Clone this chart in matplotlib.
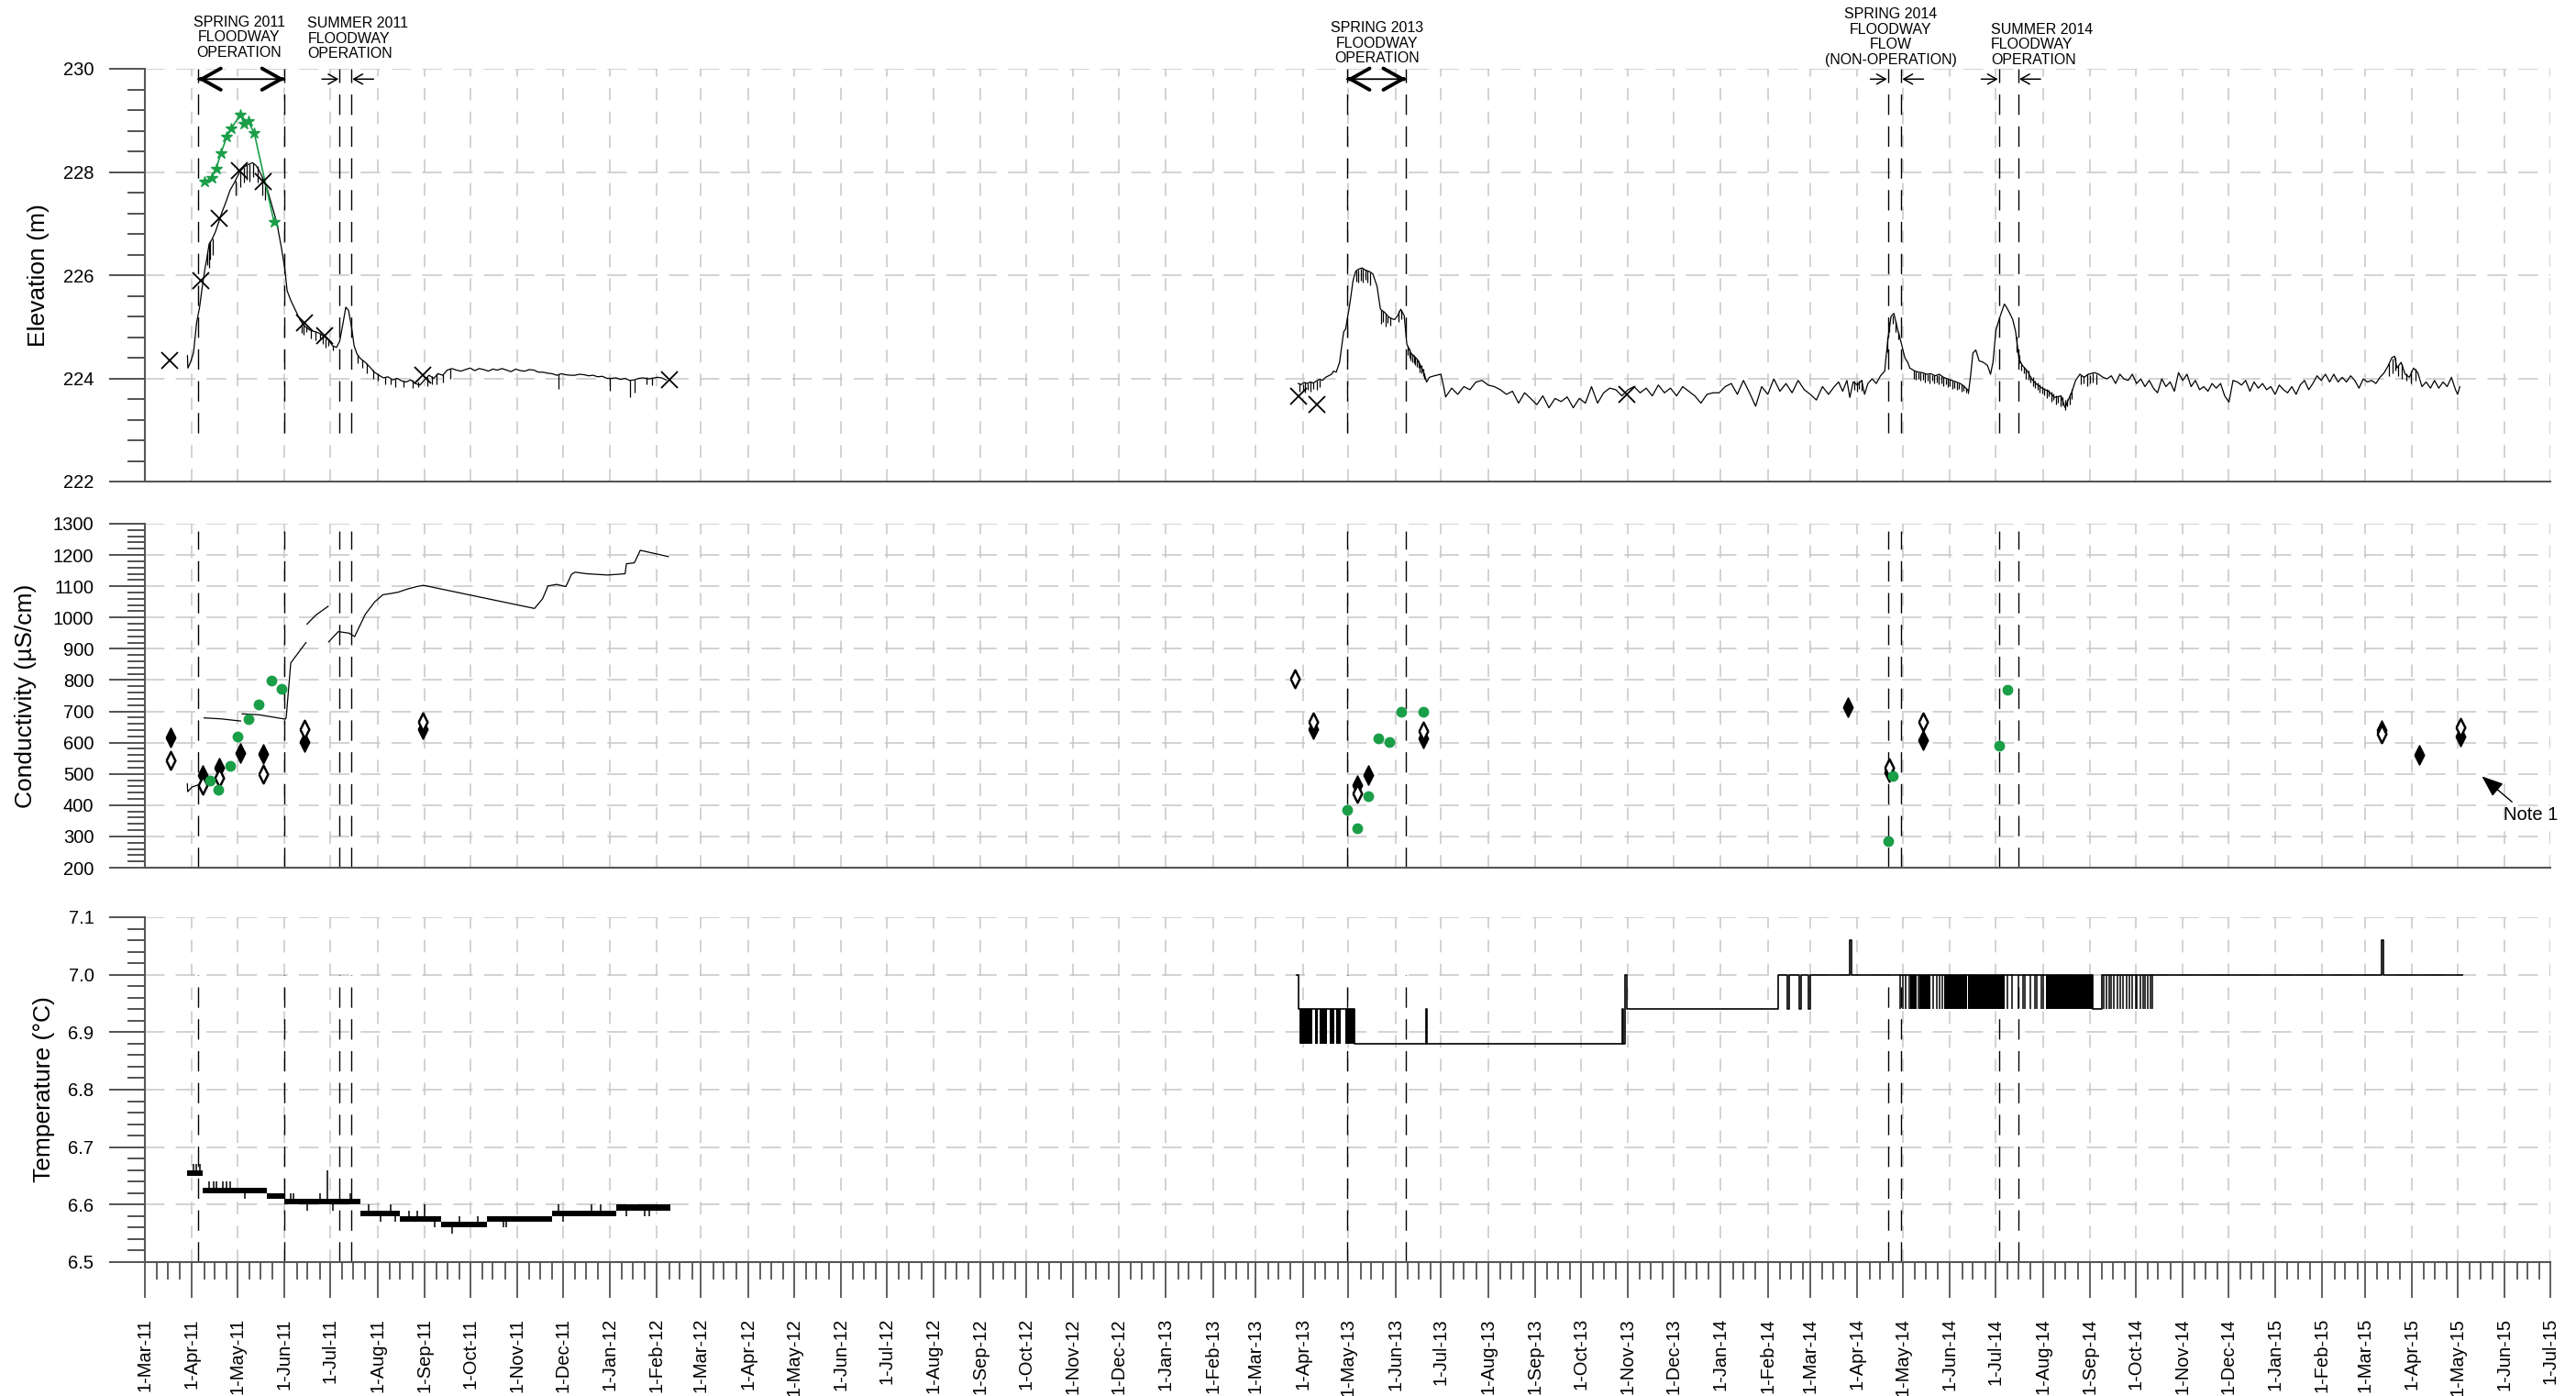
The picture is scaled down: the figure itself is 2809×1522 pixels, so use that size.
import numpy as np
import matplotlib
matplotlib.use("Agg")
import matplotlib.pyplot as plt
import matplotlib.dates as mdates
from matplotlib.ticker import MultipleLocator, FuncFormatter, FormatStrFormatter

plt.rcParams['font.family'] = ['Liberation Sans', 'DejaVu Sans']

# =====================================================================
# DATA
# =====================================================================
# Floodway events
flood_start = ['2011-04-05', '2011-07-07', '2013-04-30', '2014-04-21', '2014-07-03']
flood_end = ['2011-06-01', '2011-07-15', '2013-06-08', '2014-04-30', '2014-07-16']
flood_text = ['SPRING 2011\nFLOODWAY\nOPERATION',
              'SUMMER 2011\nFLOODWAY\nOPERATION',
              'SPRING 2013\nFLOODWAY\nOPERATION',
              'SPRING 2014\nFLOODWAY\nFLOW\n(NON-OPERATION)',
              'SUMMER 2014\nFLOODWAY\nOPERATION']

# ---- Elevation (m): logger record 2011 (days since 2011-03-01)
elev11_day = [28, 28.3, 30, 32, 34, 36, 37.7, 39.6, 40.8, 42.3, 43.9, 46.3, 48.5, 50.6, 53.1, 56.1,
              59.2, 62.3, 65.3, 68.4, 70.9, 73.0, 75.2, 77.6, 80.7, 83.7, 86.8, 89.9, 92.0, 93.6,
              96.0, 99.1, 102.1, 105.2, 108.3, 111.3, 114.4, 117.5, 120.6, 123.6, 126.1, 128.2,
              130.4, 132.2, 134.0, 135.9, 137.7, 139.6,
              142, 145, 148, 151, 154, 157, 160, 163, 166, 169, 172, 175, 178, 181, 184, 187, 190,
              193, 196, 199, 202, 205, 208, 211, 214, 217, 220, 223, 226, 229, 232, 235, 238, 241,
              244, 247, 250, 253, 256, 259, 262, 265, 268, 271, 274, 277, 280, 283, 286, 289, 292,
              295, 298, 301, 304, 307, 310, 313, 316, 319, 322, 325, 328, 331, 334, 337, 340, 343]
elev11_m = [224.44, 224.20, 224.31, 224.50, 225.07, 225.38, 225.76, 226.14, 226.33, 226.61,
            226.68, 226.83, 227.02, 227.21, 227.40, 227.65, 227.81, 228.00, 228.10, 228.15,
            228.18, 228.13, 228.03, 227.88, 227.65, 227.34, 227.02, 226.52, 226.14, 225.70,
            225.51, 225.32, 225.13, 225.01, 224.94, 224.91, 224.88, 224.82, 224.75, 224.63,
            224.60, 224.72, 225.07, 225.38, 225.32, 225.01, 224.63, 224.47,
            224.38, 224.31, 224.22, 224.12, 224.06, 224.01, 224.03, 223.97, 224.00, 223.95,
            223.93, 223.97, 223.90, 223.87, 223.97, 224.06, 224.00, 224.09, 224.06, 224.16,
            224.19, 224.16, 224.14, 224.17, 224.20, 224.15, 224.19, 224.17, 224.14, 224.18,
            224.16, 224.19, 224.16, 224.13, 224.18, 224.15, 224.14, 224.17, 224.16, 224.12,
            224.12, 224.10, 224.09, 224.06, 224.09, 224.07, 224.06, 224.06, 224.08, 224.07,
            224.05, 224.06, 224.03, 224.04, 224.00, 224.00, 224.01, 223.98, 224.00, 223.96,
            223.97, 224.00, 224.01, 223.99, 224.00, 224.02, 224.01, 223.97]

# ---- Elevation logger record 2013-2014 (days since 2013-03-01)
elev13_day = [28, 30, 32, 34, 36, 38, 40, 42, 44, 46, 48, 50, 51.2, 53, 55.2, 57.9, 59.2, 61.9,
              64.1, 65.9, 68, 70, 72, 74, 76, 77.2, 79.9, 82.1, 84.8, 87.5, 90, 91.5, 93.5, 95.5,
              97.7, 99.5, 102.2, 106.3, 110.3, 112.5, 114.3, 117.6, 121.9, 123.7,
              125, 129, 133, 137, 141, 145, 149, 153, 157, 161, 165, 169, 173, 177, 181, 185, 189,
              193, 197, 201, 205, 209, 213, 217, 221, 225, 229, 233, 237, 241, 245, 249, 253, 257,
              261, 265, 269, 273, 277, 281, 285, 289, 293, 297, 301, 305, 309, 313, 317, 321, 325,
              329, 333, 337, 341, 345, 349, 353, 357, 361, 365, 369, 373, 377]
elev13_m = [223.90, 223.88, 223.92, 223.90, 223.93, 223.91, 223.95, 223.98, 223.96, 224.02,
            224.05, 224.08, 224.14, 224.12, 224.31, 224.90, 224.96, 225.43, 225.90, 226.08,
            226.12, 226.14, 226.10, 226.08, 226.05, 226.02, 225.78, 225.34, 225.28, 225.19,
            225.15, 225.14, 225.22, 225.34, 225.22, 224.66, 224.49, 224.37, 224.14, 223.93,
            224.02, 224.05, 224.08, 223.84,
            223.64, 223.81, 223.69, 223.84, 223.78, 223.93, 223.96, 223.87, 223.84, 223.78,
            223.69, 223.75, 223.52, 223.72, 223.61, 223.49, 223.66, 223.43, 223.61, 223.55,
            223.64, 223.43, 223.61, 223.52, 223.84, 223.52, 223.72, 223.81, 223.78, 223.66,
            223.78, 223.84, 223.72, 223.81, 223.66, 223.87, 223.72, 223.81, 223.66, 223.84,
            223.75, 223.66, 223.52, 223.69, 223.72, 223.72, 223.84, 223.90, 223.69, 223.96,
            223.72, 223.46, 223.84, 223.69, 223.99, 223.75, 223.90, 223.72, 223.96, 223.78,
            223.69, 223.58, 223.84, 223.69]

# ---- Elevation logger record 2014-2015 (days since 2014-03-01)
elev14_day = [15.8, 18.6, 21.3, 24.1, 26.0, 28.2, 31.0, 33.8, 35.7, 37.9,
              40.7, 43.4, 46.2, 49.0, 49.5, 51.2, 53.1, 55.0, 56.7, 57.8,
              60.0, 62.2, 64.1, 65.5, 68.3, 71.1, 73.8, 76.6, 79.3, 82.1,
              84.9, 87.6, 90.4, 93.2, 95.9, 98.7, 101.4, 104.2, 105.6, 107.0,
              108.9, 111.1, 113.9, 116.6, 118.6, 120.2, 122.2, 124.9, 127.7, 129.1,
              131.3, 133.2, 135.1, 137.4, 139.6, 142.9, 145.6, 148.4, 152.5, 156.7,
              160.8, 165.0, 167.7, 169.1, 171.9, 174.6, 177.4, 180.2, 182.9, 187.1,
              189.8, 192.6, 195.4, 198.1, 200.9, 203.7, 206.4, 209.2, 211.9, 214.7,
              217.5, 220.2, 223.0, 225.8, 228.5, 231.3, 234.0, 236.8, 239.6, 242.3,
              245.1, 247.9, 250.6, 253.4, 256.2, 258.9, 261.7, 264.4, 267.2, 270.0,
              272.7, 275.5, 278.2, 281.0, 283.8, 286.5, 289.3, 292.0, 294.8, 297.6,
              300.3, 303.1, 305.9, 308.6, 311.4, 314.1, 316.9, 319.7, 322.4, 325.2,
              328.0, 330.7, 333.5, 336.2, 339.0, 341.8, 344.5, 347.3, 350.1, 352.8,
              355.6, 358.3, 361.1, 363.9, 366.6, 369.4, 372.2, 374.9, 377.7, 380.4,
              382.7, 384.6, 386.0, 388.8, 391.5, 394.3, 397.0, 399.8, 402.5, 405.3,
              408.1, 410.8, 413.6, 416.4, 419.1, 421.9, 424.6, 426.0, 427.4]
elev14_m = [223.84, 223.93, 223.75, 223.96, 223.63, 223.93, 223.87, 223.96, 223.69, 223.90,
            223.99, 223.90, 224.05, 224.14, 224.31, 224.79, 225.20, 225.26, 225.05, 224.91,
            224.67, 224.40, 224.31, 224.20, 224.15, 224.12, 224.11, 224.08, 224.09, 224.05,
            224.08, 224.02, 223.99, 223.96, 223.93, 223.90, 223.84, 223.75, 224.08, 224.49,
            224.55, 224.34, 224.31, 224.25, 224.08, 224.31, 224.94, 225.20, 225.44, 225.38,
            225.26, 225.14, 224.91, 224.37, 224.25, 224.14, 223.99, 223.90, 223.81, 223.75,
            223.63, 223.66, 223.43, 223.54, 223.72, 223.96, 224.08, 224.02, 224.08, 224.11,
            224.08, 224.02, 223.99, 224.05, 223.90, 224.08, 223.99, 223.96, 224.08, 223.90,
            223.99, 223.84, 223.96, 223.81, 223.72, 223.99, 223.84, 223.93, 223.75, 224.11,
            223.96, 224.08, 223.84, 223.96, 223.78, 223.84, 223.75, 223.90, 223.81, 223.90,
            223.66, 223.54, 223.96, 223.93, 223.87, 223.96, 223.75, 223.93, 223.81, 223.90,
            223.78, 223.84, 223.69, 223.87, 223.78, 223.72, 223.84, 223.69, 223.87, 223.96,
            223.78, 223.90, 224.05, 223.96, 224.08, 223.93, 224.08, 223.93, 224.02, 223.93,
            224.05, 223.96, 223.81, 223.99, 223.93, 223.96, 223.90, 224.02, 224.11, 224.25,
            224.40, 224.43, 224.20, 224.31, 224.08, 224.02, 224.20, 224.11, 223.84, 223.93,
            223.81, 223.96, 223.81, 223.93, 223.84, 224.02, 223.78, 223.69, 223.84]

# ---- Short-period logger fluctuations (day, low, high)
spk11_day = [41, 42, 43, 44.5, 60, 63, 65, 67, 69, 71.5, 74, 77, 79, 103, 104.5, 106, 109, 112, 115,
             117, 119, 121, 124, 140, 143, 146, 150, 153, 158, 162, 165, 170, 176, 180, 186, 189,
             192, 196, 201, 272, 306, 319, 322, 330, 334]
spk11_lo = [226.20, 226.15, 226.30, 226.40, 227.55, 227.70, 227.80, 227.85, 227.82, 227.90, 227.80,
            227.55, 227.45, 224.88, 224.85, 224.90, 224.78, 224.74, 224.76, 224.66, 224.60, 224.63,
            224.55, 224.30, 224.20, 224.10, 224.00, 223.95, 223.88, 223.88, 223.84, 223.84, 223.82,
            223.84, 223.85, 223.88, 223.88, 223.92, 224.00, 223.80, 223.76, 223.64, 223.72, 223.88,
            223.86]
spk11_hi = [226.42, 226.60, 226.66, 226.72, 227.84, 228.02, 228.10, 228.14, 228.16, 228.17, 228.12,
            227.90, 227.76, 225.10, 225.05, 225.00, 224.95, 224.92, 224.88, 224.83, 224.78, 224.74,
            224.64, 224.46, 224.37, 224.29, 224.17, 224.09, 224.03, 224.00, 224.00, 223.96, 223.97,
            223.93, 224.03, 224.04, 224.09, 224.08, 224.18, 224.08, 224.01, 223.98, 223.98, 224.02,
            224.02]
spk13_day = [29, 31, 32.5, 34, 36, 38, 40, 42, 66, 67.5, 69, 70.5, 72, 73.5, 75, 82.5, 84, 85.5, 87,
             88.5, 94, 96, 100, 101, 102, 103, 104, 105, 106, 107, 108, 109, 110, 111,
             394, 395.5, 397, 398.5]
spk13_lo = [223.74, 223.76, 223.72, 223.78, 223.75, 223.80, 223.77, 223.84, 225.88, 225.85, 225.90,
            225.86, 225.92, 225.85, 225.80, 225.05, 225.10, 225.00, 225.08, 225.02, 225.10, 225.15,
            224.45, 224.40, 224.35, 224.32, 224.30, 224.25, 224.22, 224.20, 224.12, 224.10, 224.05,
            224.00, 223.78, 223.74, 223.80, 223.76]
spk13_hi = [223.90, 223.89, 223.92, 223.90, 223.93, 223.92, 223.95, 223.98, 226.09, 226.11, 226.13,
            226.14, 226.11, 226.09, 226.06, 225.33, 225.30, 225.26, 225.20, 225.18, 225.30, 225.33,
            224.64, 224.58, 224.50, 224.47, 224.45, 224.42, 224.38, 224.35, 224.30, 224.25, 224.18,
            224.10, 223.95, 223.93, 223.96, 223.98]
spk14_day = [50.5, 52, 54, 56, 58, 68, 69.5, 71, 72.5, 74, 75.5, 77, 78.5, 80, 81.5, 83, 84.5, 86,
             87.5, 89, 90.5, 92, 93.5, 95, 96.5, 98, 99.5, 101, 102.5, 104,
             136, 137.5, 139, 140.5, 142, 143.5, 145, 146.5, 148, 149.5, 151, 152.5, 154, 155.5,
             157, 158.5, 160, 161.5, 163, 164.5, 166, 167.5, 169, 170.5, 172,
             178, 180, 182.5, 184, 186, 188, 381, 383, 385, 387, 389.5, 392, 395, 398]
spk14_lo = [224.50, 224.90, 225.05, 224.90, 224.75, 224.00, 223.98, 224.00, 223.95, 223.98, 223.92,
            223.96, 223.90, 223.95, 223.90, 223.92, 223.88, 223.90, 223.85, 223.88, 223.83, 223.85,
            223.80, 223.82, 223.78, 223.80, 223.75, 223.76, 223.72, 223.70,
            224.50, 224.30, 224.15, 224.10, 224.00, 223.98, 223.92, 223.85, 223.82, 223.78, 223.72,
            223.70, 223.68, 223.62, 223.65, 223.55, 223.58, 223.50, 223.52, 223.45, 223.48, 223.38,
            223.45, 223.50, 223.60,
            223.88, 223.90, 223.85, 223.90, 223.92, 223.88, 224.05, 224.10, 224.15, 224.05, 224.00,
            223.95, 223.90, 223.95]
spk14_hi = [224.80, 225.10, 225.22, 225.12, 224.90, 224.15, 224.13, 224.12, 224.11, 224.10, 224.09,
            224.08, 224.08, 224.07, 224.06, 224.06, 224.07, 224.04, 224.02, 224.00, 223.99, 223.97,
            223.96, 223.94, 223.92, 223.90, 223.88, 223.86, 223.82, 223.80,
            224.80, 224.45, 224.30, 224.22, 224.18, 224.15, 224.05, 224.02, 223.95, 223.92, 223.88,
            223.85, 223.82, 223.80, 223.78, 223.74, 223.70, 223.68, 223.66, 223.68, 223.64, 223.58,
            223.60, 223.70, 223.80,
            224.06, 224.05, 224.08, 224.07, 224.10, 224.08, 224.30, 224.38, 224.40, 224.25, 224.28,
            224.10, 224.15, 224.18]

# ---- Manual water level measurements (X) and river stage (green stars)
manual_date = ['2011-03-17', '2011-04-07', '2011-04-19', '2011-05-02', '2011-05-18', '2011-06-14',
               '2011-06-27', '2011-08-31', '2012-02-09', '2013-03-29', '2013-04-10', '2013-10-31']
manual_m = [224.34, 225.89, 227.10, 228.03, 227.81, 225.07, 224.82, 224.07, 223.98,
            223.65, 223.49, 223.69]
stage_date = ['2011-04-09', '2011-04-14', '2011-04-17', '2011-04-20', '2011-04-24', '2011-04-27',
              '2011-05-03', '2011-05-05', '2011-05-08', '2011-05-12', '2011-05-25']
stage_m = [227.81, 227.89, 228.07, 228.36, 228.69, 228.85, 229.12, 228.94, 228.98, 228.75, 227.03]

# ---- Conductivity (uS/cm): logger 2011 (days since 2011-03-01, NaN = gap)
nan = np.nan
cond11_day = [27.9, 28.2, 31, 38.5, 38.6, 39, 50, 63, 63.1, 64, 75, 92.5, 93, 96, 106, 106.3,
              106.7, 112.3, 120.6, 120.7, 120.9, 127.3, 134.4, 138, 145, 151.2, 156.7, 162, 166.6,
              172.7, 178.8, 183.4, 256.4, 261.7, 265.3, 270.9, 277, 278.5, 280.7, 283.1, 290.8,
              304.6, 316, 316.9, 322.1, 326, 344.5]
cond11_val = [468, 443, 458, 470, nan, 679, 676, 669, nan, 692, 689, 675, 681, 855, 920, nan,
              979, 1007, 1036, nan, 922, 955, 950, 939, 1010, 1050, 1073, 1077, 1081, 1091, 1099,
              1103, 1029, 1060, 1101, 1106, 1099, 1114, 1138, 1145, 1140, 1136, 1140, 1172, 1175,
              1215, 1195]
# Sample results
condA_date = ['2011-03-18', '2011-04-08', '2011-04-19', '2011-05-03', '2011-05-18', '2011-06-14',
              '2011-08-31', '2013-04-08', '2013-05-07', '2013-05-14', '2013-06-19', '2014-03-26',
              '2014-04-22', '2014-05-14', '2015-03-12', '2015-04-06', '2015-05-03']
condA_val = [617, 495, 519, 568, 563, 603, 642, 642, 465, 495, 613, 714, 505, 608, 640, 561, 620]
condB_date = ['2011-03-18', '2011-04-08', '2011-04-19', '2011-05-18', '2011-06-14', '2011-08-31',
              '2013-03-27', '2013-04-08', '2013-05-07', '2013-06-19', '2014-04-22', '2014-05-14',
              '2015-03-12', '2015-05-03']
condB_val = [543, 465, 487, 500, 644, 667, 805, 665, 438, 637, 519, 667, 628, 650]
condG_date = ['2011-04-13', '2011-04-18', '2011-04-26', '2011-05-01', '2011-05-08', '2011-05-15',
              '2011-05-23', '2011-05-30', '2013-04-30', '2013-05-07', '2013-05-14', '2013-05-21',
              '2013-05-28', '2013-06-05', '2013-06-19', '2014-04-21', '2014-04-24', '2014-07-03',
              '2014-07-09']
condG_val = [480, 448, 527, 619, 674, 722, 799, 772, 384, 325, 430, 614, 603, 698, 698, 286, 492,
             590, 770]
note_tip_date, note_tip_val = '2015-05-17', 492
note_txt_date, note_txt_val = '2015-06-18', 369

# ---- Temperature (C)
t11_start = ['2011-03-29', '2011-04-08', '2011-05-20', '2011-06-01', '2011-07-21', '2011-08-16',
             '2011-09-12', '2011-10-12', '2011-11-24', '2012-01-05']
t11_end = ['2011-04-08', '2011-05-20', '2011-06-01', '2011-07-21', '2011-08-16', '2011-09-12',
           '2011-10-12', '2011-11-24', '2012-01-05', '2012-02-10']
t11_lo = [6.65, 6.62, 6.61, 6.60, 6.58, 6.57, 6.56, 6.57, 6.58, 6.59]
t11_hi = [6.66, 6.63, 6.62, 6.61, 6.59, 6.58, 6.57, 6.58, 6.59, 6.60]
t11_spk_date = ['2011-04-02', '2011-04-04', '2011-04-06', '2011-04-12', '2011-04-15', '2011-04-17',
                '2011-04-21', '2011-04-24', '2011-04-26', '2011-05-06', '2011-06-05', '2011-06-07',
                '2011-06-16', '2011-06-24', '2011-06-29', '2011-07-03', '2011-07-14', '2011-07-26',
                '2011-08-03', '2011-08-10', '2011-08-13', '2011-08-22', '2011-08-27', '2011-09-01',
                '2011-09-08', '2011-09-19', '2011-09-24', '2011-10-06', '2011-10-23', '2011-10-25',
                '2011-11-28', '2011-12-01', '2011-12-20', '2011-12-26', '2012-01-12', '2012-01-24',
                '2012-01-27']
t11_spk_lo = [6.66, 6.66, 6.66, 6.63, 6.63, 6.63, 6.63, 6.63, 6.63, 6.61, 6.61, 6.61, 6.59, 6.61,
              6.61, 6.59, 6.61, 6.59, 6.57, 6.59, 6.57, 6.58, 6.58, 6.58, 6.56, 6.55, 6.57, 6.57,
              6.56, 6.56, 6.59, 6.57, 6.59, 6.59, 6.58, 6.58, 6.58]
t11_spk_hi = [6.67, 6.67, 6.67, 6.64, 6.64, 6.64, 6.64, 6.64, 6.64, 6.62, 6.62, 6.62, 6.60, 6.62,
              6.66, 6.60, 6.62, 6.60, 6.58, 6.60, 6.58, 6.59, 6.59, 6.60, 6.57, 6.56, 6.58, 6.58,
              6.57, 6.57, 6.60, 6.58, 6.60, 6.60, 6.59, 6.59, 6.59]
t13_date = ['2013-03-28', '2013-03-29', '2013-05-05', '2013-06-21', '2013-06-22', '2013-10-28',
            '2013-10-29', '2013-10-30', '2013-10-31', '2014-02-08', '2014-02-14', '2014-02-15',
            '2014-02-22', '2014-02-23', '2014-02-28', '2014-03-01', '2014-03-27', '2014-03-28',
            '2014-09-03', '2014-09-09', '2015-03-12', '2015-03-13', '2015-05-04']
t13_val = [7.00, 6.94, 6.88, 6.94, 6.88, 6.94, 6.88, 7.00, 6.94, 7.00, 6.94, 7.00, 6.94, 7.00,
           6.94, 7.00, 7.06, 7.00, 6.94, 7.00, 7.06, 7.00, 7.00]
t13_band_start = ['2013-03-30', '2013-04-09', '2013-04-12', '2013-04-19', '2013-04-23', '2013-04-29',
                  '2014-05-06', '2014-05-12', '2014-05-28', '2014-06-13', '2014-08-03']
t13_band_end = ['2013-04-07', '2013-04-11', '2013-04-17', '2013-04-22', '2013-04-26', '2013-05-05',
                '2014-05-10', '2014-05-19', '2014-06-12', '2014-07-07', '2014-09-03']
t13_band_lo = [6.88, 6.88, 6.88, 6.88, 6.88, 6.88, 6.94, 6.94, 6.94, 6.94, 6.94]
t13_band_hi = [6.94, 6.94, 6.94, 6.94, 6.94, 6.94, 7.00, 7.00, 7.00, 7.00, 7.00]
t13_tog_date = ['2014-04-29', '2014-05-01', '2014-05-03', '2014-05-05', '2014-05-11', '2014-05-21',
                '2014-05-23', '2014-05-25', '2014-05-27', '2014-07-09', '2014-07-12', '2014-07-16',
                '2014-07-19', '2014-07-20', '2014-07-24', '2014-07-27', '2014-07-28', '2014-07-31',
                '2014-08-01', '2014-09-10', '2014-09-12', '2014-09-14', '2014-09-15', '2014-09-17',
                '2014-09-19', '2014-09-21', '2014-09-23', '2014-09-25', '2014-09-27', '2014-09-29',
                '2014-10-01', '2014-10-02', '2014-10-04', '2014-10-06', '2014-10-07', '2014-10-09',
                '2014-10-11', '2014-10-12']
t13_tog_lo = [6.94] * len(t13_tog_date)
t13_tog_hi = [7.00] * len(t13_tog_date)

# =====================================================================
# HELPERS
# =====================================================================
def dn(strings):
    return mdates.date2num(np.array(strings, dtype='datetime64[D]'))

def dd(base, days):
    return dn([base])[0] + np.asarray(days, float)

XMIN, XMAX = dn(['2011-03-01', '2015-07-01'])
GREEN = '#1a9e48'
GRID = '#c6c6c6'
SPINE = '#555555'

fig = plt.figure(figsize=(28.09, 15.22), dpi=100)
W_PX, H_PX = 2809.0, 1522.0
L = 158 / W_PX
W = (2781 - 158) / W_PX
ax1 = fig.add_axes([L, 1 - 525 / H_PX, W, 450 / H_PX])
ax2 = fig.add_axes([L, 1 - 946 / H_PX, W, 375 / H_PX])
ax3 = fig.add_axes([L, 1 - 1376 / H_PX, W, 376 / H_PX])

def style(ax, ylim, major, minor, fmt, bottom_labels):
    ax.set_xlim(XMIN, XMAX)
    ax.set_ylim(*ylim)
    ax.yaxis.set_major_locator(MultipleLocator(major))
    ax.yaxis.set_minor_locator(MultipleLocator(minor))
    ax.yaxis.set_major_formatter(FormatStrFormatter(fmt))
    ax.xaxis.set_major_locator(mdates.MonthLocator())
    ax.xaxis.set_minor_locator(mdates.DayLocator(bymonthday=[9, 16, 24]))
    for s in ('top', 'right'):
        ax.spines[s].set_visible(False)
    for s in ('left', 'bottom'):
        ax.spines[s].set_color(SPINE)
        ax.spines[s].set_linewidth(1.5)
    ax.tick_params(axis='y', which='major', direction='out', length=28, width=1.3,
                   color='#444444', pad=12, labelsize=14.5)
    ax.tick_params(axis='y', which='minor', direction='out', length=14, width=1.3,
                   color='#444444')
    if bottom_labels:
        ax.tick_params(axis='x', which='major', direction='out', length=28, width=1.2,
                       color='#444444', pad=16, labelsize=14.5, labelrotation=90)
        ax.tick_params(axis='x', which='minor', direction='out', length=14, width=1.2,
                       color='#444444')
        ax.xaxis.set_major_formatter(FuncFormatter(
            lambda x, p: f"{mdates.num2date(x).day}-{mdates.num2date(x).strftime('%b-%y')}"))
    else:
        ax.tick_params(axis='x', which='both', bottom=False, labelbottom=False)
    ax.grid(axis='y', which='major', color=GRID, lw=1.1, ls=(0, (14, 8)))
    ax.grid(axis='x', which='major', color=GRID, lw=1.1, ls=(0, (9, 8)))
    ax.set_axisbelow(True)

style(ax1, (222, 230), 2, 0.4, '%d', False)
style(ax2, (200, 1300), 100, 20, '%d', False)
style(ax3, (6.5, 7.1), 0.1, 0.02, '%.1f', True)

ax1.set_ylabel('Elevation (m)', fontsize=19)
ax2.set_ylabel('Conductivity (\u00b5S/cm)', fontsize=19)
ax3.set_ylabel('Temperature (\u00b0C)', fontsize=19)
ax1.yaxis.set_label_coords(-0.0396, 0.5)
ax2.yaxis.set_label_coords(-0.0450, 0.5)
ax3.yaxis.set_label_coords(-0.0374, 0.5)

# floodway dashed lines
FLOOD_LS = (0, (16, 9))
fx = np.concatenate([dn(flood_start), dn(flood_end)])
ax1.vlines(fx, 222.95, 230, colors='k', lw=1.0, linestyles=[FLOOD_LS], zorder=2)
ax2.vlines(fx, 200, 1278, colors='k', lw=1.0, linestyles=[FLOOD_LS], zorder=2)
ax3.vlines(fx, 6.5, 7.0, colors='k', lw=1.0, linestyles=[FLOOD_LS], zorder=2)

# ---------------- Elevation panel ----------------
ax1.plot(dd('2011-03-01', elev11_day), elev11_m, color='k', lw=0.9, zorder=3)
e_x = np.concatenate([dd('2013-03-01', elev13_day), dd('2014-03-01', elev14_day)])
e_y = np.concatenate([elev13_m, elev14_m])
ax1.plot(e_x, e_y, color='k', lw=0.9, zorder=3)
ax1.vlines(dd('2011-03-01', spk11_day), spk11_lo, spk11_hi, colors='k', lw=0.9, zorder=3)
ax1.vlines(dd('2013-03-01', spk13_day), spk13_lo, spk13_hi, colors='k', lw=0.9, zorder=3)
ax1.vlines(dd('2014-03-01', spk14_day), spk14_lo, spk14_hi, colors='k', lw=0.9, zorder=3)
ax1.plot(dn(stage_date), stage_m, color=GREEN, lw=1.2, marker='*', ms=9, mec=GREEN,
         mfc=GREEN, zorder=4)
ax1.plot(dn(manual_date), manual_m, ls='none', marker='x', ms=13, mew=1.3, color='k', zorder=5)

# annotations
ARROW_Y = 229.8
text_x = ['2011-05-02', '2011-06-16', '2013-05-20', '2014-04-23', '2014-06-28']
text_ha = ['center', 'left', 'center', 'center', 'left']
text_y = [230.18, 230.16, 230.07, 230.04, 230.04]
wide = [True, False, True, False, False]
for i in range(len(flood_text)):
    x1 = dn([flood_start[i]])[0]
    x2 = dn([flood_end[i]])[0]
    ax1.text(dn([text_x[i]])[0], text_y[i], flood_text[i], ha=text_ha[i], va='bottom',
             fontsize=11.5, linespacing=1.12, multialignment=text_ha[i], clip_on=False)
    if wide[i]:
        ax1.annotate('', xy=(x1, ARROW_Y), xytext=(x2, ARROW_Y),
                     arrowprops=dict(arrowstyle='-', lw=1.3, color='k', shrinkA=0, shrinkB=0))
        for tip, tail in ((x1, x1 + 2), (x2, x2 - 2)):
            ax1.annotate('', xy=(tip, ARROW_Y), xytext=(tail, ARROW_Y),
                         arrowprops=dict(arrowstyle='->,head_length=0.75,head_width=0.42',
                                         lw=2.8, color='k', shrinkA=0, shrinkB=0,
                                         mutation_scale=20))
    else:
        for tip, tail in ((x1 - 0.5, x1 - 11.5), (x2 + 0.5, x2 + 14.5)):
            ax1.annotate('', xy=(tip, ARROW_Y), xytext=(tail, ARROW_Y),
                         arrowprops=dict(arrowstyle='->,head_length=0.5,head_width=0.28',
                                         lw=1.1, color='k', shrinkA=0, shrinkB=0,
                                         mutation_scale=14))

# ---------------- Conductivity panel ----------------
ax2.plot(dd('2011-03-01', cond11_day), cond11_val, color='k', lw=0.9, zorder=3)
dia = [(-0.5, 0), (0, 1), (0.5, 0), (0, -1), (-0.5, 0)]
ax2.plot(dn(condA_date), condA_val, ls='none', marker=dia, ms=15, mfc='k', mec='k', mew=1.2,
         zorder=4)
ax2.plot(dn(condB_date), condB_val, ls='none', marker=dia, ms=14, mfc='white', mec='k', mew=1.8,
         zorder=5)
ax2.plot(dn(condG_date), condG_val, ls='none', marker='o', ms=7.5, mfc=GREEN, mec=GREEN, zorder=6)
ax2.annotate('Note 1', xy=(dn([note_tip_date])[0], note_tip_val),
             xytext=(dn([note_txt_date])[0], note_txt_val), ha='center', va='center',
             fontsize=14.5,
             arrowprops=dict(arrowstyle='-|>,head_length=0.9,head_width=0.35', lw=1.0,
                             color='k', mutation_scale=16, relpos=(0.25, 1.0),
                             shrinkA=2, shrinkB=0))

# ---------------- Temperature panel ----------------
for s, e, lo, hi in zip(dn(t11_start), dn(t11_end), t11_lo, t11_hi):
    ax3.fill_between([s, e], [lo, lo], [hi, hi], color='k', lw=0, zorder=3)
ax3.vlines(dn(t11_spk_date), t11_spk_lo, t11_spk_hi, colors='k', lw=1.1, zorder=3)
ax3.plot(dn(t13_date), t13_val, drawstyle='steps-post', color='k', lw=1.2, zorder=3)
for s, e, lo, hi in zip(dn(t13_band_start), dn(t13_band_end), t13_band_lo, t13_band_hi):
    ax3.fill_between([s, e], [lo, lo], [hi, hi], color='k', lw=0, zorder=3)
ax3.vlines(dn(t13_tog_date), t13_tog_lo, t13_tog_hi, colors='k', lw=1.1, zorder=3)

fig.savefig('out.png', dpi=100)
